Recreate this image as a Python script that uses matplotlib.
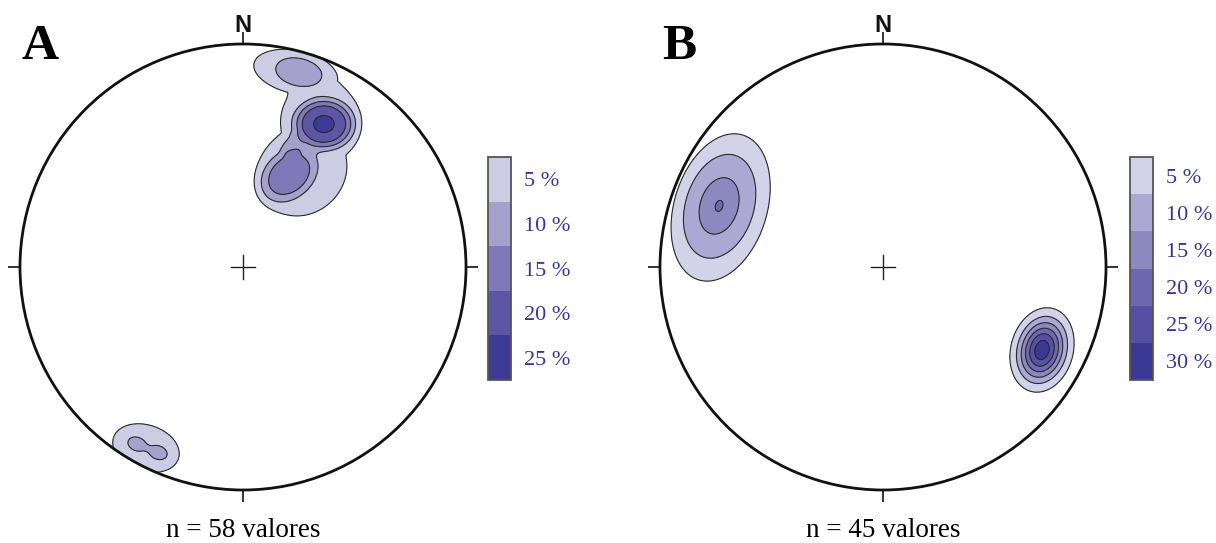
import numpy as np
import matplotlib
matplotlib.use("Agg")
import matplotlib.pyplot as plt
from matplotlib.patches import Circle
from matplotlib.colors import ListedColormap, BoundaryNorm
from matplotlib.cm import ScalarMappable

# pole-density clusters on the equal-area net (unit circle, N up)
# x, y = centre, sa/sb = spread along/across, ang = tilt (deg), peak = % density, k = flatness
# cores add up, envelopes give the low (5 %) background
a_core_x = [0.363, 0.251, 0.206, 0.220, -0.475, -0.381]
a_core_y = [0.641, 0.874, 0.413, 0.547, -0.794, -0.832]
a_core_sa = [0.108, 0.109, 0.117, 0.050, 0.046, 0.046]
a_core_sb = [0.090, 0.065, 0.085, 0.045, 0.033, 0.033]
a_core_ang = [0, -12, 40, 60, -20, -20]
a_core_peak = [18.8, 5.5, 11.5, 3.8, 5.0, 5.0]
a_core_k = [2.0, 1.5, 2.0, 2.0, 2.0, 2.0]

a_env_x = [0.233, 0.345, 0.265, -0.435]
a_env_y = [0.874, 0.650, 0.430, -0.812]
a_env_sa = [0.200, 0.190, 0.230, 0.166]
a_env_sb = [0.097, 0.210, 0.205, 0.112]
a_env_ang = [-12, 0, 45, -18]

b_core_x = [-0.735, 0.713]
b_core_y = [0.274, -0.372]
b_core_sa = [0.130, 0.099]
b_core_sb = [0.085, 0.072]
b_core_ang = [73, 75]
b_core_peak = [14.0, 33.0]
b_core_k = [0.8, 1.0]

b_env_x = [-0.726]
b_env_y = [0.265]
b_env_sa = [0.333]
b_env_sb = [0.200]
b_env_ang = [73]

a_levels = [5, 10, 15, 20, 25]
b_levels = [5, 10, 15, 20, 25, 30]
a_colors = ["#ccccE4", "#a6a0cc", "#8078b8", "#5c56a4", "#3c3c94"]
b_colors = ["#d2d2e8", "#aca8d4", "#8c88c0", "#6e68b0", "#5650a4", "#3a3a94"]
a_n = 58
b_n = 45

W, H = 1216, 543
R = 223
serif = "Liberation Serif"
label_col = "#35359a"


def blob(X, Y, x0, y0, s1, s2, ang, k):
    t = np.radians(ang)
    u = (X - x0) * np.cos(t) + (Y - y0) * np.sin(t)
    v = -(X - x0) * np.sin(t) + (Y - y0) * np.cos(t)
    q = (u / s1) ** 2 + (v / s2) ** 2
    return np.exp(-0.5 * q ** k)


def density(X, Y, core, env):
    Z = np.zeros_like(X)
    for x0, y0, s1, s2, ang, p, k in zip(*core):
        Z += p * blob(X, Y, x0, y0, s1, s2, ang, k)
    base = np.zeros_like(X)
    for x0, y0, s1, s2, ang in zip(*env):
        base = np.maximum(base, 6.5 * blob(X, Y, x0, y0, s1, s2, ang, 4))
    return Z + base


def net(fig, cxp, cyp, core, env, levels, colors, letter, n, cbx):
    half = 1.1 * R
    ax = fig.add_axes([(cxp - half) / W, (H - cyp - half) / H, 2 * half / W, 2 * half / H])
    ax.set_xlim(-1.1, 1.1)
    ax.set_ylim(-1.1, 1.1)
    ax.axis("off")

    g = np.linspace(-1.02, 1.02, 700)
    X, Y = np.meshgrid(g, g)
    Z = density(X, Y, core, env)

    clip = Circle((0, 0), 1, transform=ax.transData)
    cf = ax.contourf(X, Y, Z, levels=levels + [1000], colors=colors)
    cl = ax.contour(X, Y, Z, levels=levels, colors="#2b2b2b", linewidths=0.8)
    cf.set_clip_path(clip)
    cl.set_clip_path(clip)

    ax.add_patch(Circle((0, 0), 1, fill=False, lw=2.0, ec="#111111", zorder=5))
    t = 12 / R
    for dx, dy in [(0, 1), (0, -1), (1, 0), (-1, 0)]:
        ax.plot([dx, dx * (1 + t)], [dy, dy * (1 + t)], color="#222222", lw=1.3,
                clip_on=False, solid_capstyle="butt")
    c = 12 / R
    ax.plot([-c, c], [0, 0], color="#222222", lw=1.0)
    ax.plot([0, 0], [-c, c], color="#222222", lw=1.0)
    ax.text(0, 1.085, "N", ha="center", va="center", fontsize=17, fontweight="bold",
            family="Liberation Sans", color="#111111", clip_on=False)

    fig.text((cxp - 221) / W, 1 - 59 / H, letter, fontsize=37, fontweight="bold",
             family=serif, va="baseline", ha="left")
    fig.text(cxp / W, 1 - 537 / H, f"n = {n} valores", fontsize=19.5, family=serif,
             ha="center", va="baseline")

    # colour key
    cax = fig.add_axes([cbx / W, (H - 380) / H, 23 / W, 223 / H])
    bounds = levels + [levels[-1] + 5]
    cmap = ListedColormap(colors)
    norm = BoundaryNorm(bounds, cmap.N)
    cb = fig.colorbar(ScalarMappable(norm=norm, cmap=cmap), cax=cax, drawedges=True)
    centers = [b + 2.5 for b in levels]
    cb.set_ticks(centers, labels=[f"{v} %" for v in levels])
    cax.minorticks_off()
    cax.invert_yaxis()
    cax.tick_params(which="both", length=0, pad=9, labelsize=16, labelcolor=label_col)
    for lab in cax.get_yticklabels():
        lab.set_family(serif)
    cb.outline.set_edgecolor("#555555")
    cb.outline.set_linewidth(1.3)
    cb.dividers.set_color("#222222")
    cb.dividers.set_linewidth(1.0)


fig = plt.figure(figsize=(W / 100, H / 100), dpi=100)
net(fig, 243, 267,
    (a_core_x, a_core_y, a_core_sa, a_core_sb, a_core_ang, a_core_peak, a_core_k),
    (a_env_x, a_env_y, a_env_sa, a_env_sb, a_env_ang),
    a_levels, a_colors, "A", a_n, 488)
net(fig, 883, 267,
    (b_core_x, b_core_y, b_core_sa, b_core_sb, b_core_ang, b_core_peak, b_core_k),
    (b_env_x, b_env_y, b_env_sa, b_env_sb, b_env_ang),
    b_levels, b_colors, "B", b_n, 1130)
fig.savefig("out.png", dpi=100)
